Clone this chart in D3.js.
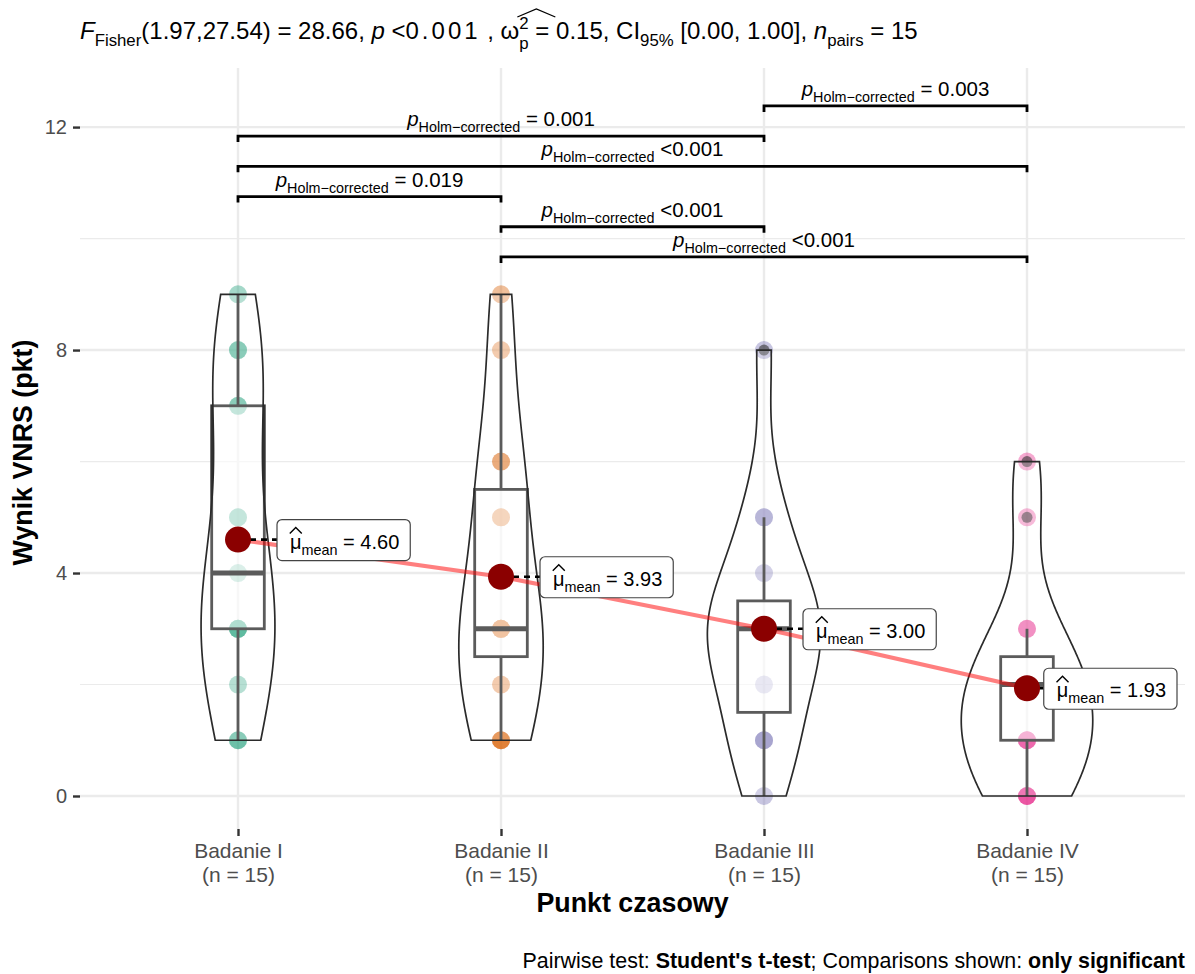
<!DOCTYPE html>
<html>
<head>
<meta charset="utf-8">
<script src="https://cdn.jsdelivr.net/npm/d3@7"></script>
<style>
  body { margin: 0; background: #fff; }
  text { font-family: "Liberation Sans", Arial, Helvetica, sans-serif; white-space: pre; }
</style>
</head>
<body>
<svg id="chart" width="1195" height="974"></svg>
<script>
// ---- data -------------------------------------------------------------
const categories = ["Badanie I", "Badanie II", "Badanie III", "Badanie IV"];
const groupCounts = ["(n = 15)", "(n = 15)", "(n = 15)", "(n = 15)"];
const scoresI   = [1, 1, 2, 3, 3, 3, 3, 4, 5, 5, 7, 7, 8, 8, 9];
const scoresII  = [1, 1, 1, 2, 3, 3, 3, 3, 3, 5, 5, 6, 6, 8, 9];
const scoresIII = [0, 1, 1, 1, 2, 3, 3, 3, 3, 3, 3, 4, 5, 5, 8];
const scoresIV  = [0, 0, 0, 1, 1, 1, 1, 2, 2, 2, 2, 3, 3, 5, 6];
const groupColors = ["#1B9E77", "#D95F02", "#7570B3", "#E7298A"];
const yTicks = [0, 4, 8, 12];
const yMinorTicks = [2, 6, 10];
// significant pairwise comparisons, stacked from the lowest bracket upward
const pairFrom = ["Badanie II", "Badanie II", "Badanie I", "Badanie I", "Badanie I", "Badanie III"];
const pairTo   = ["Badanie IV", "Badanie III", "Badanie II", "Badanie IV", "Badanie III", "Badanie IV"];
const pairP    = ["<0.001", "<0.001", "= 0.019", "<0.001", "= 0.001", "= 0.003"];

const groups = [scoresI, scoresII, scoresIII, scoresIV];

// ---- layout -------------------------------------------------------------
const svg = d3.select("#chart");
const panel = { left: 80, right: 1185, top: 68, bottom: 829 };
const x = d3.scalePoint().domain(categories).range([238, 1027]);
const band = 263;
const y = d3.scaleLinear().domain([-0.61, 13.06]).range([830, 68]);
const FONT_AXIS = 21;

// rich text: sequence of runs laid out left to right (sub/superscripts, italics, bold).
// A run with `stack` draws a superscript and a subscript above each other after its text.
function rich(parent, runs, opts) {
  const g = parent.append("g");
  let cx = 0;
  const placed = [];
  runs.forEach(r => {
    const fs = opts.size * (r.s || 1);
    const t = g.append("text")
      .attr("x", cx)
      .attr("y", (r.dy || 0) * opts.size)
      .attr("font-size", fs)
      .attr("fill", opts.fill || "#000")
      .attr("font-style", r.it ? "italic" : null)
      .attr("font-weight", r.b ? "bold" : null)
      .attr("letter-spacing", r.ls || null);
    t.append("tspan").text(r.t);
    let w = t.node().getComputedTextLength();
    const baseW = w;
    if (r.stack) {
      const ss = opts.size * r.stack.s;
      const up = t.append("tspan").attr("font-size", ss)
        .attr("dy", r.stack.supDy * opts.size).text(r.stack.sup);
      const w1 = up.node().getComputedTextLength();
      const dn = t.append("tspan").attr("font-size", ss).attr("x", cx + baseW)
        .attr("dy", (r.stack.subDy - r.stack.supDy) * opts.size).text(r.stack.sub);
      const w2 = dn.node().getComputedTextLength();
      w = baseW + Math.max(w1, w2);
    }
    placed.push({ x: cx, w, baseW });
    cx += w;
  });
  const shift = opts.anchor === "middle" ? -cx / 2 : opts.anchor === "end" ? -cx : 0;
  g.attr("transform", `translate(${opts.x + shift},${opts.y})`);
  return { g, width: cx, placed, x0: opts.x + shift };
}

// ---- grid -----------------------------------------------------------------
const grid = svg.append("g");
grid.selectAll(".minor").data(yMinorTicks).join("line")
  .attr("x1", panel.left).attr("x2", panel.right)
  .attr("y1", d => y(d)).attr("y2", d => y(d))
  .attr("stroke", "#ebebeb").attr("stroke-width", 1.2);
grid.selectAll(".major").data(yTicks).join("line")
  .attr("x1", panel.left).attr("x2", panel.right)
  .attr("y1", d => y(d)).attr("y2", d => y(d))
  .attr("stroke", "#ebebeb").attr("stroke-width", 2.4);
grid.selectAll(".vert").data(categories).join("line")
  .attr("x1", d => x(d)).attr("x2", d => x(d))
  .attr("y1", panel.top).attr("y2", panel.bottom)
  .attr("stroke", "#ebebeb").attr("stroke-width", 2.4);

// ---- axes -----------------------------------------------------------------
const yAxis = d3.axisLeft(y).tickValues(yTicks).tickSize(7).tickPadding(6);
const yg = svg.append("g").attr("transform", `translate(${panel.left},0)`).call(yAxis);
yg.select(".domain").remove();
yg.selectAll(".tick line").attr("stroke", "#333").attr("stroke-width", 2.4);
yg.selectAll(".tick text").attr("fill", "#4d4d4d").attr("font-size", 20)
  .attr("font-family", "Liberation Sans, Arial, sans-serif");

const xAxis = d3.axisBottom(x).tickSize(7).tickFormat("");
const xg = svg.append("g").attr("transform", `translate(0,${panel.bottom})`).call(xAxis);
xg.select(".domain").remove();
xg.selectAll(".tick line").attr("stroke", "#333").attr("stroke-width", 2.4);
xg.selectAll(".tick").each(function (d, i) {
  const t = d3.select(this).append("text").attr("fill", "#4d4d4d")
    .attr("font-size", FONT_AXIS).attr("text-anchor", "middle");
  t.append("tspan").attr("x", 0).attr("y", 29).text(d);
  t.append("tspan").attr("x", 0).attr("y", 53).text(groupCounts[i]);
});

svg.append("text").attr("x", (panel.left + panel.right) / 2).attr("y", 912)
  .attr("text-anchor", "middle").attr("font-size", 26.8).attr("font-weight", "bold")
  .text("Punkt czasowy");
svg.append("text").attr("transform", `translate(32,${(panel.top + panel.bottom) / 2 + 4}) rotate(-90)`)
  .attr("text-anchor", "middle").attr("font-size", 26.8).attr("font-weight", "bold")
  .text("Wynik VNRS (pkt)");

// ---- statistics helpers ---------------------------------------------------------
function boxStats(vals) {
  const s = vals.slice().sort(d3.ascending);
  const q1 = d3.quantile(s, 0.25), med = d3.quantile(s, 0.5), q3 = d3.quantile(s, 0.75);
  const iqr = q3 - q1;
  const lo = d3.min(s.filter(v => v >= q1 - 1.5 * iqr));
  const hi = d3.max(s.filter(v => v <= q3 + 1.5 * iqr));
  const outliers = s.filter(v => v < lo || v > hi);
  return { q1, med, q3, lo, hi, outliers };
}
// Silverman-style bandwidth from the standard deviation
function bandwidth(vals) {
  return 0.9 * d3.deviation(vals) * Math.pow(vals.length, -0.2);
}
function kde(vals) {
  const bw = bandwidth(vals);
  const lo = d3.min(vals), hi = d3.max(vals);
  const n = 256;
  const pts = d3.range(n).map(i => lo + (hi - lo) * i / (n - 1));
  return pts.map(v => {
    const d = d3.mean(vals, u => Math.exp(-0.5 * ((v - u) / bw) ** 2)) / (bw * Math.sqrt(2 * Math.PI));
    return [v, d];
  });
}

const dens = groups.map(kde);
const maxDens = d3.max(dens, g => d3.max(g, d => d[1]));
const violinHalf = 0.5 * band / 2;
const boxHalf = 0.2 * band / 2;

// ---- raw points -----------------------------------------------------------
const pts = svg.append("g");
groups.forEach((vals, gi) => {
  pts.selectAll(null).data(vals).join("circle")
    .attr("cx", x(categories[gi])).attr("cy", d => y(d)).attr("r", 9)
    .attr("fill", groupColors[gi]).attr("fill-opacity", 0.4);
});

// ---- boxplots ------------------------------------------------------------
const boxes = svg.append("g");
const boxInk = "#333";
groups.forEach((vals, gi) => {
  const st = boxStats(vals);
  const cx = x(categories[gi]);
  const g = boxes.append("g");
  g.append("line").attr("x1", cx).attr("x2", cx).attr("y1", y(st.q3)).attr("y2", y(st.hi))
    .attr("stroke", boxInk).attr("stroke-width", 2.8);
  g.append("line").attr("x1", cx).attr("x2", cx).attr("y1", y(st.q1)).attr("y2", y(st.lo))
    .attr("stroke", boxInk).attr("stroke-width", 2.8);
  g.append("rect").attr("x", cx - boxHalf).attr("width", 2 * boxHalf)
    .attr("y", y(st.q3)).attr("height", y(st.q1) - y(st.q3))
    .attr("fill", "#fff").attr("fill-opacity", 0.5)
    .attr("stroke", boxInk).attr("stroke-width", 2.8);
  g.append("line").attr("x1", cx - boxHalf).attr("x2", cx + boxHalf)
    .attr("y1", y(st.med)).attr("y2", y(st.med))
    .attr("stroke", boxInk).attr("stroke-width", 5);
  g.selectAll(null).data(st.outliers).join("circle")
    .attr("cx", cx).attr("cy", d => y(d)).attr("r", 5.5)
    .attr("fill", "#333").attr("fill-opacity", 0.6);
});

// ---- violins -------------------------------------------------------------
const violins = svg.append("g");
dens.forEach((d, gi) => {
  const cx = x(categories[gi]);
  const right = d.map(([v, de]) => [cx + violinHalf * de / maxDens, y(v)]);
  const left = d.slice().reverse().map(([v, de]) => [cx - violinHalf * de / maxDens, y(v)]);
  violins.append("path")
    .attr("d", d3.line()(right.concat(left)) + "Z")
    .attr("fill", "#fff").attr("fill-opacity", 0.2)
    .attr("stroke", "#2b2b2b").attr("stroke-width", 1.7);
});

// ---- means ----------------------------------------------------------------
const means = groups.map(v => d3.mean(v));
svg.append("path")
  .attr("d", d3.line()(means.map((m, i) => [x(categories[i]), y(m)])))
  .attr("fill", "none").attr("stroke", "red").attr("stroke-opacity", 0.5).attr("stroke-width", 4.2);

const segLayer = svg.append("g");
const dotLayer = svg.append("g");
const labelLayer = svg.append("g");
means.forEach((m, gi) => {
  const cx = x(categories[gi]);
  const cy = y(m);
  const g = labelLayer.append("g");
  const rect = g.append("rect");
  const rt = rich(g, [
    { t: "\u03BC" },
    { t: "mean", s: 0.72, dy: 0.3 },
    { t: " = " + m.toFixed(2) }
  ], { x: 0, y: 0, size: 20 });
  const w = rt.width + 24;
  // keep the label inside the panel
  let bx = cx + 39;
  if (bx + w > panel.right - 8) bx = panel.right - 8 - w;
  rt.g.attr("transform", `translate(${bx + 13},${cy + 9})`);
  rect.attr("x", bx).attr("y", cy - 20).attr("width", w).attr("height", 41)
    .attr("rx", 5).attr("fill", "#fff").attr("stroke", "#444").attr("stroke-width", 1.2);
  const hx = bx + 13 + rt.placed[0].w / 2;
  g.append("path").attr("d", `M${hx - 6},${cy - 6} L${hx},${cy - 12} L${hx + 6},${cy - 6}`)
    .attr("fill", "none").attr("stroke", "#000").attr("stroke-width", 1.4);
  segLayer.append("line").attr("x1", cx + 1).attr("x2", bx).attr("y1", cy).attr("y2", cy)
    .attr("stroke", "#000").attr("stroke-width", 2.6).attr("stroke-dasharray", "6,5");
});
dotLayer.selectAll("circle").data(means).join("circle")
  .attr("cx", (d, i) => x(categories[i])).attr("cy", d => y(d)).attr("r", 13)
  .attr("fill", "#8B0000");

// ---- significance brackets -------------------------------------------------
const bracketBase = d3.max(groups, g => d3.max(g)) + 0.67;
const bracketStep = 0.542;
const brackets = svg.append("g");
pairFrom.forEach((a, i) => {
  const lvl = y(bracketBase + i * bracketStep);
  const x1 = x(a), x2 = x(pairTo[i]);
  brackets.append("path")
    .attr("d", `M${x1},${lvl + 6} V${lvl} H${x2} V${lvl + 6}`)
    .attr("fill", "none").attr("stroke", "#000").attr("stroke-width", 2.8);
  rich(brackets, [
    { t: "p", it: true },
    { t: "Holm\u2212corrected", s: 0.7, dy: 0.3 },
    { t: " " + pairP[i] }
  ], { x: (x1 + x2) / 2, y: lvl - 10, size: 20.5, anchor: "middle" });
});

// ---- title ------------------------------------------------------------------
const title = rich(svg, [
  { t: "F", it: true },
  { t: "Fisher", s: 0.7, dy: 0.3 },
  { t: "(1.97,27.54) = 28.66, " },
  { t: "p", it: true },
  { t: " <" },
  { t: "0.001", ls: 3 },
  { t: " , " },
  { t: "\u03C9", stack: { sup: "2", sub: "p", s: 0.7, supDy: -0.42, subDy: 0.42 } },
  { t: " = 0.15, CI" },
  { t: "95%", s: 0.7, dy: 0.3 },
  { t: " [0.00, 1.00], " },
  { t: "n", it: true },
  { t: "pairs", s: 0.7, dy: 0.3 },
  { t: " = 15" }
], { x: 80, y: 39, size: 24 });
{
  const om = title.placed[7];
  const hx0 = title.x0 + om.x + om.baseW - 2, hx1 = hx0 + 38;
  svg.append("path")
    .attr("d", `M${hx0},${17} L${(hx0 + hx1) / 2},${9} L${hx1},${17}`)
    .attr("fill", "none").attr("stroke", "#000").attr("stroke-width", 1.3);
}

// ---- caption ------------------------------------------------------------------
rich(svg, [
  { t: "Pairwise test: " },
  { t: "Student's t-test", b: true },
  { t: "; Comparisons shown: " },
  { t: "only significant", b: true }
], { x: 1185, y: 968, size: 21.4, anchor: "end" });
</script>
</body>
</html>
